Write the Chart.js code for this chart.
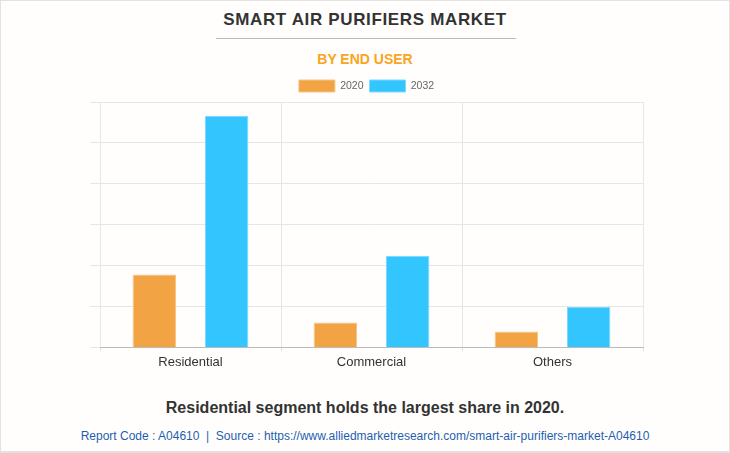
<!DOCTYPE html>
<html>
<head>
<meta charset="utf-8">
<script src="https://cdn.jsdelivr.net/npm/chart.js@4"></script>
<style>
    body { margin: 0; background: #fff; }
    .box {
        position: relative;
        width: 728px;
        height: 450px;
        border: 1px solid #e2e2e2;
        border-bottom-width: 2px;
        background: #fffefc;
        font-family: Arial, 'Liberation Sans', sans-serif;
    }
    .title {
        position: absolute; top: 9px; left: 0; width: 100%;
        text-align: center; font-weight: bold; font-size: 17px;
        color: #333; letter-spacing: 0.65px;
    }
    .rule {
        position: absolute; top: 37px; left: 215px; width: 300px;
        border-top: 1px solid #bbb;
    }
    .sub {
        position: absolute; top: 50px; left: 0; width: 100%;
        text-align: center; font-weight: bold; font-size: 14px; color: #f9a520;
    }
    .note {
        position: absolute; top: 398px; left: 0; width: 100%;
        text-align: center; font-weight: bold; font-size: 16px; color: #333;
    }
    .src {
        position: absolute; top: 428px; left: 0; width: 100%;
        text-align: center; font-size: 12px; color: #1f5fb0;
    }
    .wrap { position: absolute; top: 73px; left: 0; width: 728px; height: 307px; }
</style>
</head>
<body>
<div class="box">
    <div class="title">SMART AIR PURIFIERS MARKET</div>
    <div class="rule"></div>
    <div class="sub">BY END USER</div>
    <div class="wrap"><canvas id="myChart"></canvas></div>
    <div class="note">Residential segment holds the largest share in 2020.</div>
    <div class="src">Report Code : A04610 &nbsp;|&nbsp; Source : https://www.alliedmarketresearch.com/smart-air-purifiers-market-A04610</div>
</div>
<script>
'use strict';

const categories = ['Residential', 'Commercial', 'Others'];
const values2020 = [1.78, 0.61, 0.39];
const values2032 = [5.66, 2.24, 0.99];

const myChart = new Chart(document.getElementById('myChart'), {
    type: 'bar',
    data: {
        labels: categories,
        datasets: [
            {
                label: '2020',
                data: values2020,
                backgroundColor: '#f2a444',
                borderColor: '#f7c58a',
                borderWidth: 1,
            },
            {
                label: '2032',
                data: values2032,
                backgroundColor: '#33c5fe',
                borderColor: '#7fd9ff',
                borderWidth: 1,
            },
        ],
    },
    options: {
        responsive: true,
        maintainAspectRatio: false,
        animation: false,
        categoryPercentage: 0.8,
        barPercentage: 0.6,
        layout: {
            padding: { left: 89, right: 86, top: 0, bottom: 8 },
        },
        plugins: {
            legend: {
                labels: {
                    boxWidth: 36,
                    boxHeight: 12,
                    padding: 6,
                    color: '#666',
                    font: { family: 'Arial', size: 10.5 },
                },
            },
            tooltip: { enabled: false },
        },
        scales: {
            y: {
                beginAtZero: true,
                min: 0,
                max: 6,
                ticks: { display: false, stepSize: 1 },
                border: { display: false },
                grid: { color: '#e6e6e6', tickLength: 10 },
            },
            x: {
                border: { color: '#bbb' },
                grid: { color: '#e6e6e6', tickLength: 4 },
                ticks: {
                    color: '#333',
                    font: { family: 'Arial', size: 13 },
                },
            },
        },
    },
});
</script>
</body>
</html>
